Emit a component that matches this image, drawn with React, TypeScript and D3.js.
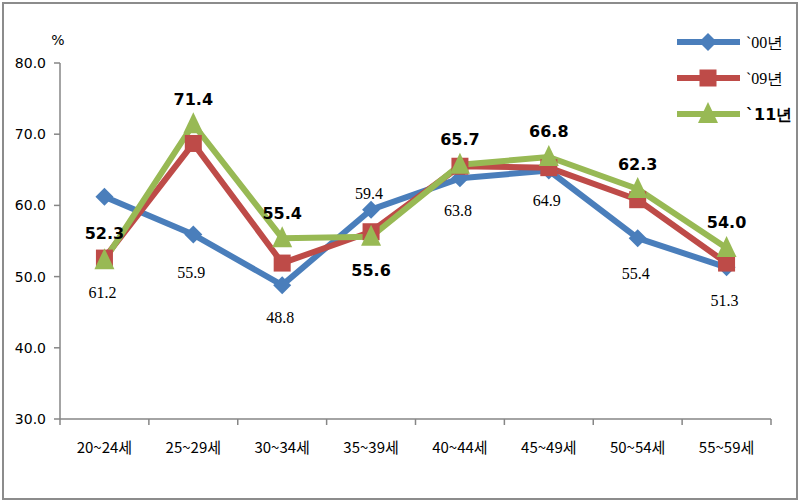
import React from "react";
import * as d3 from "d3";

const categories = ["20~24세", "25~29세", "30~34세", "35~39세", "40~44세", "45~49세", "50~54세", "55~59세"];
const seriesNames = ["`00년", "`09년", "`11년"];
const values00 = [61.2, 55.9, 48.8, 59.4, 63.8, 64.9, 55.4, 51.3];
const values09 = [52.6, 68.7, 51.9, 56.3, 65.5, 65.3, 60.8, 51.9];
const values11 = [52.3, 71.4, 55.4, 55.6, 65.7, 66.8, 62.3, 54.0];
const yTicks = [30, 40, 50, 60, 70, 80];

// label vertical offsets (px, relative to point)
const offsets00 = [96, 38, 33, -16, 33, 30, 36, 34];
const offsets11 = [-27, -25, -25, 33, -26, -26, -25, -26];

const W = 800, H = 502;
const left = 60, right = 771, top = 63, bottom = 419;

const colors = ["#4A7EBB", "#BE4B48", "#98B954"];

export default function App() {
  const x = d3.scaleBand<string>().domain(categories).range([left, right]);
  const y = d3.scaleLinear().domain([30, 80]).range([bottom, top]);
  const cx = (c: string) => (x(c) as number) + x.bandwidth() / 2;
  const line = d3.line<number>().x((_, i) => cx(categories[i])).y((d) => y(d));
  const all = [values00, values09, values11];

  const marker = (si: number, px: number, py: number, key: string) => {
    if (si === 0) {
      const s = 9;
      return <path key={key} d={`M${px},${py - s}L${px + s},${py}L${px},${py + s}L${px - s},${py}Z`} fill={colors[0]} />;
    }
    if (si === 1) {
      const s = 8.5;
      return <rect key={key} x={px - s} y={py - s} width={2 * s} height={2 * s} fill={colors[1]} />;
    }
    const s = 10;
    return <path key={key} d={`M${px},${py - s - 2}L${px + s},${py + s - 1}L${px - s},${py + s - 1}Z`} fill={colors[2]} />;
  };

  const boundaries = d3.range(categories.length + 1).map((i) => left + i * x.bandwidth());

  return (
    <svg width={W} height={H} style={{ position: "absolute", left: 0, top: 0, background: "#fff" }}>
      <rect x={3} y={3} width={794} height={496} fill="#fff" stroke="#8c8c8c" strokeWidth={2} />
      {/* axes */}
      <line x1={left} x2={left} y1={top} y2={bottom} stroke="#868686" strokeWidth={1.5} />
      <line x1={left} x2={right} y1={bottom} y2={bottom} stroke="#868686" strokeWidth={1.5} />
      {yTicks.map((t) => (
        <g key={t}>
          <line x1={left - 6} x2={left} y1={y(t)} y2={y(t)} stroke="#868686" strokeWidth={1.5} />
          <text x={46} y={y(t) + 5} textAnchor="end" fontFamily="DejaVu Sans" fontSize={14} fill="#000">
            {t.toFixed(1)}
          </text>
        </g>
      ))}
      {boundaries.map((b, i) => (
        <line key={i} x1={b} x2={b} y1={bottom} y2={bottom + 6} stroke="#868686" strokeWidth={1.5} />
      ))}
      {categories.map((c) => (
        <text key={c} x={cx(c)} y={453} textAnchor="middle" fontFamily="Noto Sans CJK KR" fontSize={15} fill="#000">
          {c}
        </text>
      ))}
      <text x={58} y={45} textAnchor="middle" fontFamily="DejaVu Sans" fontSize={14}>%</text>

      {/* lines */}
      {all.map((vals, si) => (
        <path key={si} d={line(vals) as string} fill="none" stroke={colors[si]} strokeWidth={6} strokeLinejoin="round" />
      ))}
      {all.map((vals, si) => vals.map((v, i) => marker(si, cx(categories[i]), y(v), `m${si}-${i}`)))}

      {/* labels */}
      {values00.map((v, i) => (
        <text key={`l0-${i}`} x={cx(categories[i]) - 2} y={y(v) + offsets00[i] + 5} textAnchor="middle" fontFamily="Liberation Serif" fontSize={16} fill="#000">
          {v.toFixed(1)}
        </text>
      ))}
      {values11.map((v, i) => (
        <text key={`l1-${i}`} x={cx(categories[i])} y={y(v) + offsets11[i] + 6} textAnchor="middle" fontFamily="DejaVu Sans" fontWeight="bold" fontSize={16} fill="#000">
          {v.toFixed(1)}
        </text>
      ))}

      {/* legend */}
      {seriesNames.map((n, si) => {
        const ly = 42 + si * 36;
        return (
          <g key={n}>
            <line x1={677} x2={740} y1={ly} y2={ly} stroke={colors[si]} strokeWidth={6} />
            {marker(si, 708, ly, `lg${si}`)}
            <text x={746} y={ly + 6} fontFamily={si === 2 ? "DejaVu Sans" : "Liberation Serif"} fontWeight={si === 2 ? "bold" : "normal"} fontSize={16} fill="#000">
              {n}
            </text>
          </g>
        );
      })}
    </svg>
  );
}
